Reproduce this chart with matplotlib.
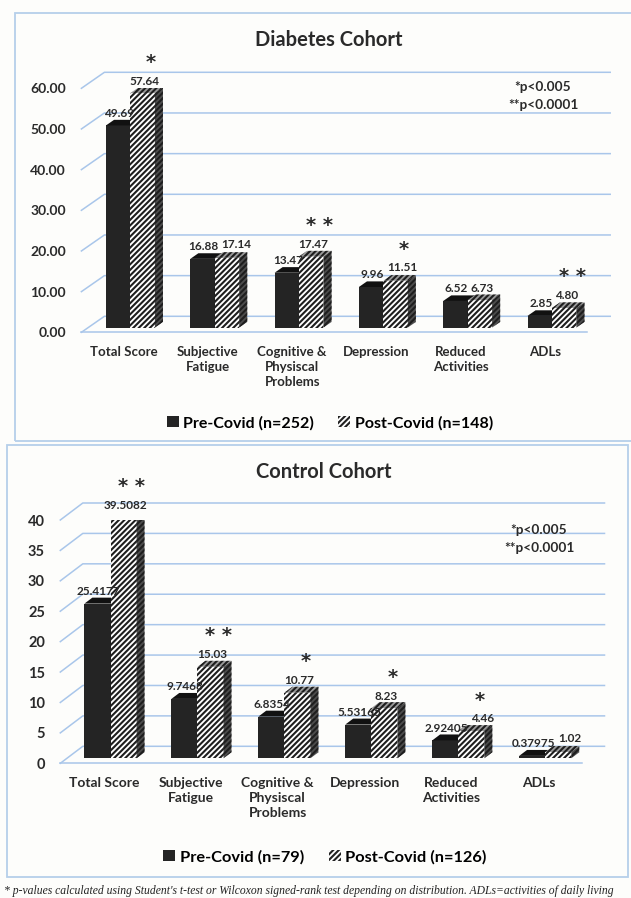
import numpy as np
import matplotlib.pyplot as plt
from matplotlib.patches import Polygon, Rectangle

plt.rcParams['font.family'] = ['Lato', 'DejaVu Sans']
plt.rcParams['hatch.linewidth'] = 1.5

# ---- data ----
categories = ['Total Score', 'Subjective\nFatigue', 'Cognitive &\nPhysiscal\nProblems',
              'Depression', 'Reduced\nActivities', 'ADLs']

diab_pre = [49.69, 16.88, 13.47, 9.96, 6.52, 2.85]
diab_post = [57.64, 17.14, 17.47, 11.51, 6.73, 4.80]
diab_sig = ['*', '', '**', '*', '', '**']
diab_ticks = [0, 10, 20, 30, 40, 50, 60]
diab_legend = ['Pre-Covid (n=252)', 'Post-Covid (n=148)']

ctrl_pre = [25.4177, 9.7468, 6.8354, 5.53165, 2.92405, 0.37975]
ctrl_post = [39.5082, 15.03, 10.77, 8.23, 4.46, 1.02]
ctrl_sig = ['**', '**', '*', '*', '*', '']
ctrl_ticks = [0, 5, 10, 15, 20, 25, 30, 35, 40]
ctrl_legend = ['Pre-Covid (n=79)', 'Post-Covid (n=126)']

W, H = 631, 898
GRID = '#a9c6ea'
TXT = '#2a2a2a'
PRE = dict(front='#242424', top='#111111', side='#1a1a1a')
POST = dict(front='#ffffff', top='#9a9a9a', side='#4d4d4d')
HATCH = '//////'

fig = plt.figure(figsize=(W / 100, H / 100), dpi=100)
fig.patch.set_facecolor('#fdfdfb')


def px_axes(x0, y0, x1, y1):
    """axes from a pixel box (origin top-left)"""
    return fig.add_axes([x0 / W, 1 - y1 / H, (x1 - x0) / W, (y1 - y0) / H])


def draw_bar3d(ax, x, v, w, f, b, ddx, ddy, colors, hatch=None, z=3):
    x0 = x - w / 2 + f * ddx
    x1 = x0 + w
    y0 = f * ddy
    ec = '#1e1e1e'
    ax.bar(x0, v, width=w, bottom=y0, align='edge', color=colors['front'],
           edgecolor=ec, lw=0, hatch=hatch, zorder=z)
    top = [(x0, v + y0), (x1, v + y0), (x1 + b * ddx, v + y0 + b * ddy), (x0 + b * ddx, v + y0 + b * ddy)]
    side = [(x1, y0), (x1, v + y0), (x1 + b * ddx, v + y0 + b * ddy), (x1 + b * ddx, y0 + b * ddy)]
    ax.add_patch(Polygon(top, closed=True, facecolor=colors['top'], edgecolor=ec, lw=0,
                         hatch=hatch, zorder=z))
    ax.add_patch(Polygon(side, closed=True, facecolor=colors['side'], edgecolor=ec, lw=0,
                         hatch=hatch, zorder=z))
    return (x0 + w / 2, v + y0)


def draw_panel(ax, pre, post, sig, ticks, tickfmt, labfmt, fs, depth_px, w):
    n = len(categories)
    x = np.arange(n)
    ax.set_xlim(-0.5, n - 0.5)
    ax.set_ylim(0, ticks[-1])
    ax.set_facecolor('none')
    for s in ax.spines.values():
        s.set_visible(False)
    ax.set_yticks(ticks, [tickfmt.format(t) for t in ticks])
    ax.set_xticks(x, categories)
    ax.tick_params(axis='y', length=0, pad=11, labelsize=fs['tick'], labelcolor=TXT)
    ax.tick_params(axis='x', length=0, pad=10, labelsize=fs['cat'], labelcolor=TXT)
    for lab in ax.get_xticklabels() + ax.get_yticklabels():
        lab.set_fontweight('bold')
        lab.set_linespacing(1.3)
    for lab in ax.get_xticklabels():
        lab.set_verticalalignment('top')

    # depth of the 3d box in data units
    (ax0, ay0), (ax1, ay1) = ax.transData.transform([(0, 0), (1, 1)])
    ddx = depth_px[0] / (ax1 - ax0)
    ddy = depth_px[1] / (ay1 - ay0)

    for t in ticks:
        ax.plot([-0.5, -0.5 + ddx, n - 0.5 + ddx], [t, t + ddy, t + ddy],
                color=GRID, lw=1.1, zorder=1, clip_on=False)
    ax.plot([-0.5, n - 0.5], [0, 0], color=GRID, lw=1.1, zorder=1, clip_on=False)

    renderer = fig.canvas.get_renderer()
    f, b = 0.3, 0.35
    for i in range(n):
        p = draw_bar3d(ax, x[i] - w / 2, pre[i], w, f, b, ddx, ddy, PRE, None, 3)
        q = draw_bar3d(ax, x[i] + w / 2, post[i], w, f, b, ddx, ddy, POST, HATCH, 4)
        lp = ax.annotate(labfmt(pre[i]), p, xytext=(1, 12), textcoords='offset pixels',
                         ha='center', va='center', fontsize=fs['val'], weight='bold',
                         color=TXT, zorder=6, annotation_clip=False)
        lq = ax.annotate(labfmt(post[i]), q, xytext=(2, 12), textcoords='offset pixels',
                         ha='center', va='center', fontsize=fs['val'], weight='bold',
                         color=TXT, zorder=6, annotation_clip=False)
        # push the post label right when it runs into the pre label
        bp = lp.get_window_extent(renderer)
        bq = lq.get_window_extent(renderer)
        if bp.overlaps(bq):
            lq.xyann = (2 + bp.x1 - bq.x0 + 3, 13)
        if sig[i]:
            ax.annotate(' '.join(sig[i]), q, xytext=(8, 31), textcoords='offset pixels',
                        ha='center', va='center', fontsize=14, family='DejaVu Sans',
                        weight='bold', color=TXT, zorder=6, annotation_clip=False)

    handles = [Rectangle((0, 0), 1, 1, facecolor=PRE['front'], lw=0),
               Rectangle((0, 0), 1, 1, facecolor='white', edgecolor='#222222', lw=0, hatch=HATCH)]
    return handles


# panel frames
fig.add_artist(Rectangle((15 / W, 1 - 441 / H), 640 / W, 428 / H, transform=fig.transFigure,
                         fill=False, ec='#b6cfea', lw=1.3))
fig.add_artist(Rectangle((7 / W, 1 - 877 / H), 621 / W, 432 / H, transform=fig.transFigure,
                         fill=False, ec='#b6cfea', lw=1.3))

# ---- Diabetes cohort ----
ax1 = px_axes(81.4, 88.3, 587.2, 332.3)
h1 = draw_panel(ax1, diab_pre, diab_post, diab_sig, diab_ticks, '{:.2f}', lambda v: f'{v:.2f}',
                dict(tick=10, cat=9.5, val=8.5), (23, 16), 0.29)
fig.text(329 / W, 1 - 40 / H, 'Diabetes Cohort', ha='center', va='center', fontsize=14.5,
         weight='bold', color=TXT)
fig.text(543 / W, 1 - 87 / H, '*p<0.005', ha='center', va='center', fontsize=9.8,
         weight='bold', color=TXT)
fig.text(543 / W, 1 - 105 / H, '**p<0.0001', ha='center', va='center', fontsize=9.8,
         weight='bold', color=TXT)
fig.legend(h1, diab_legend, loc='center', bbox_to_anchor=(330 / W, 1 - 423 / H), ncol=2,
           frameon=False, handlelength=0.72, handleheight=0.72,
           handletextpad=0.3, columnspacing=1.5, prop=dict(weight='bold', size=11.5))

# ---- Control cohort ----
ax2 = px_axes(60.3, 520.0, 582.0, 763.3)
h2 = draw_panel(ax2, ctrl_pre, ctrl_post, ctrl_sig, ctrl_ticks, '{:d}', lambda v: f'{v}',
                dict(tick=10.5, cat=10, val=8.5), (22.5, 17), 0.30)
fig.text(324 / W, 1 - 472 / H, 'Control Cohort', ha='center', va='center', fontsize=14.5,
         weight='bold', color=TXT)
fig.text(539 / W, 1 - 530 / H, '*p<0.005', ha='center', va='center', fontsize=9.8,
         weight='bold', color=TXT)
fig.text(539 / W, 1 - 548 / H, '**p<0.0001', ha='center', va='center', fontsize=9.8,
         weight='bold', color=TXT)
fig.legend(h2, ctrl_legend, loc='center', bbox_to_anchor=(325 / W, 1 - 857 / H), ncol=2,
           frameon=False, handlelength=0.72, handleheight=0.72,
           handletextpad=0.3, columnspacing=1.5, prop=dict(weight='bold', size=11.8))

fig.text(4 / W, 1 - 891 / H,
         "* p-values calculated using Student's t-test or Wilcoxon signed-rank test depending "
         "on distribution. ADLs=activities of daily living",
         ha='left', va='center', fontsize=8.35, family='Liberation Serif', style='italic',
         color='#222222')

fig.savefig('out.png', dpi=100, facecolor=fig.get_facecolor())
